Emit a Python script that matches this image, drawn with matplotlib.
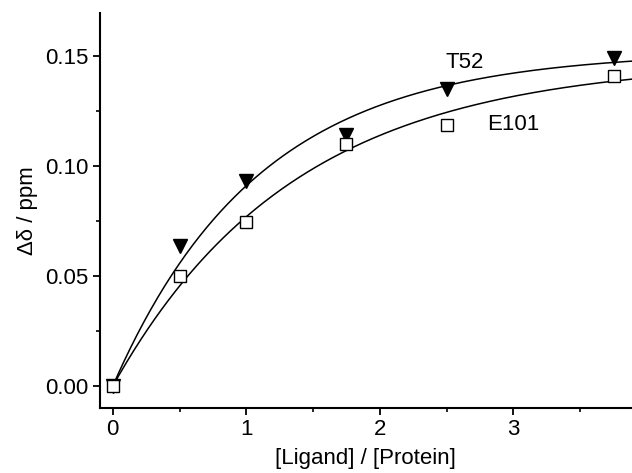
import numpy as np
import matplotlib
matplotlib.use("Agg")
import matplotlib.pyplot as plt
from matplotlib.ticker import MultipleLocator, FormatStrFormatter

plt.rcParams['font.family'] = ['Liberation Sans', 'DejaVu Sans']

# data points
ratio = [0.0, 0.5, 1.0, 1.75, 2.5, 3.75]
t52 = [0.0, 0.0636, 0.093, 0.114, 0.135, 0.149]
e101 = [0.0, 0.050, 0.0745, 0.110, 0.1186, 0.141]

# fitted saturation parameters (A, k) for y = A(1 - exp(-k x))
t52_fit = (0.152, 0.914)
e101_fit = (0.148, 0.734)

FS = 16

fig = plt.figure(figsize=(6.32, 4.73), dpi=100)
ax = fig.add_axes([0.158, 0.1374, 0.842, 0.835])

xx = np.linspace(0, 3.89, 300)
for (A, k) in (t52_fit, e101_fit):
    ax.plot(xx, A * (1 - np.exp(-k * xx)), color='black', lw=1.1, zorder=2)

ax.plot(ratio, t52, linestyle='none', marker='v', markersize=10,
        markerfacecolor='black', markeredgecolor='black', zorder=3)
ax.plot(ratio, e101, linestyle='none', marker='s', markersize=8,
        markerfacecolor='white', markeredgecolor='black', markeredgewidth=1.0, zorder=4)

ax.text(2.637, 0.147, 'T52', fontsize=FS, ha='center', va='center')
ax.text(3.0, 0.119, 'E101', fontsize=FS, ha='center', va='center')

ax.set_xlim(-0.097, 3.888)
ax.set_ylim(-0.01, 0.1695)

for side in ('top', 'right'):
    ax.spines[side].set_visible(False)
for side in ('left', 'bottom'):
    ax.spines[side].set_linewidth(1.5)

ax.xaxis.set_major_locator(MultipleLocator(1))
ax.xaxis.set_minor_locator(MultipleLocator(0.5))
ax.yaxis.set_major_locator(MultipleLocator(0.05))
ax.yaxis.set_minor_locator(MultipleLocator(0.025))
ax.yaxis.set_major_formatter(FormatStrFormatter('%.2f'))
ax.tick_params(which='major', direction='out', length=5, width=1.3, labelsize=FS, pad=3)
ax.tick_params(which='minor', direction='out', length=3, width=1.2)

ax.set_xlabel('[Ligand] / [Protein]', fontsize=FS, labelpad=6)
ax.set_ylabel('Δδ / ppm', fontsize=FS, labelpad=5)

fig.savefig('out.png', dpi=100)
